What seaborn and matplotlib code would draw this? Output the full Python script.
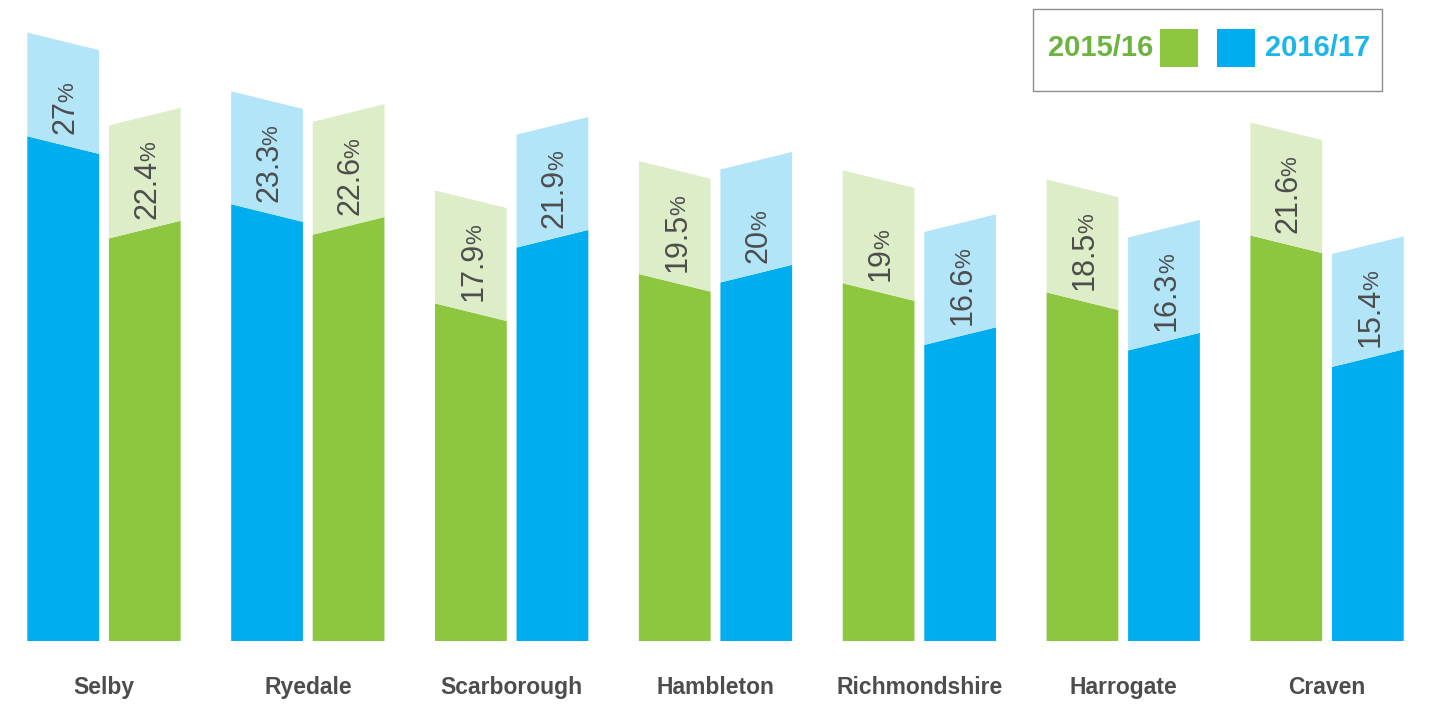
import pandas as pd
import numpy as np
import matplotlib
matplotlib.use("Agg")
import matplotlib.pyplot as plt
from matplotlib.patches import Polygon, Rectangle
from matplotlib import font_manager
import seaborn as sns


districts = ["Selby", "Ryedale", "Scarborough", "Hambleton", "Richmondshire", "Harrogate", "Craven"]
v_1516 = [22.4, 22.6, 17.9, 19.5, 19.0, 18.5, 21.6]
v_1617 = [27.0, 23.3, 21.9, 20.0, 16.6, 16.3, 15.4]
# which year is drawn on the left of each pair
left_year = ["2016/17", "2016/17", "2015/16", "2015/16", "2015/16", "2015/16", "2015/16"]
years = ["2015/16", "2016/17"]

solid = {"2015/16": "#8DC63F", "2016/17": "#00AEEF"}
light = {"2015/16": "#DDEDC7", "2016/17": "#B3E5F9"}
legend_text = {"2015/16": "#6DB33F", "2016/17": "#1CB6E8"}
grey = "#4D4D4D"

rows = []
for i, d in enumerate(districts):
    for y, v in zip(years, [v_1516[i], v_1617[i]]):
        rows.append({"district": d, "year": y, "value": v,
                     "slot": "L" if y == left_year[i] else "R"})
df = pd.DataFrame(rows)

sns.set_theme(style="white")
installed = {f.name for f in font_manager.fontManager.ttflist}
narrow = "Liberation Sans Narrow" if "Liberation Sans Narrow" in installed else "Liberation Sans"
plt.rcParams["font.family"] = ["Liberation Sans", "DejaVu Sans"]

fig = plt.figure(figsize=(14.29, 7.09), dpi=100)
ax = fig.add_axes([0, 68 / 709, 1, 641 / 709])

sns.barplot(data=df, x="district", y="value", hue="slot", order=districts,
            hue_order=["L", "R"], width=0.8, gap=0.12, errorbar=None,
            legend=False, ax=ax)

ax.set_xlim(-0.51, 6.50)
ax.set_ylim(0, 34.9)

half_slope = 0.48
cap = 6.15
fig.canvas.draw()
renderer = fig.canvas.get_renderer()

for p in list(ax.patches):
    x0, w, h = p.get_x(), p.get_width(), p.get_height()
    c = x0 + w / 2
    i = int(round(c))
    is_left = c < i
    year = left_year[i] if is_left else [y for y in years if y != left_year[i]][0]
    p.remove()
    s = half_slope if is_left else -half_slope
    yl, yr = h + s, h - s
    ch = cap
    if i == 0 and is_left:
        ch = 5.65
    ax.add_patch(Polygon([(x0, 0), (x0 + w, 0), (x0 + w, yr), (x0, yl)],
                         closed=True, facecolor=solid[year], lw=0))
    ax.add_patch(Polygon([(x0, yl), (x0 + w, yr), (x0 + w, yr + ch), (x0, yl + ch)],
                         closed=True, facecolor=light[year], lw=0))

    num = f"{h:g}"
    tx = c + 0.051
    ty = h + 0.6
    t = ax.text(tx, ty, num, rotation=90, rotation_mode="anchor", ha="left",
                va="baseline", fontsize=22, color=grey, family=[narrow, "DejaVu Sans"])
    bb = t.get_window_extent(renderer)
    top = ax.transData.inverted().transform((0, bb.y1))[1]
    ax.text(tx, top - 0.1, "%", rotation=90, rotation_mode="anchor", ha="left",
            va="baseline", fontsize=16, color=grey, family=[narrow, "DejaVu Sans"])

ax.set_xticks(range(len(districts)))
ax.set_xticklabels(districts, fontsize=16.5, fontweight="bold", color=grey)
ax.tick_params(axis="x", length=0, pad=25)
ax.set_yticks([])
ax.set_xlabel("")
ax.set_ylabel("")
sns.despine(ax=ax, left=True, bottom=True)

# legend box
W, H = 1429, 709
fig.patches.append(Rectangle((1033 / W, 1 - 91 / H), 349 / W, 82 / H, transform=fig.transFigure,
                             facecolor="white", edgecolor="#8C8C8C", lw=1.0))
fig.patches.append(Rectangle((1160 / W, 1 - 67 / H), 38 / W, 38 / H, transform=fig.transFigure,
                             facecolor=solid["2015/16"], lw=0))
fig.patches.append(Rectangle((1217 / W, 1 - 67 / H), 38 / W, 38 / H, transform=fig.transFigure,
                             facecolor=solid["2016/17"], lw=0))
fig.text(1153 / W, 1 - 48 / H, "2015/16", ha="right", va="center", fontsize=21,
         fontweight="bold", color=legend_text["2015/16"])
fig.text(1265 / W, 1 - 48 / H, "2016/17", ha="left", va="center", fontsize=21,
         fontweight="bold", color=legend_text["2016/17"])

fig.savefig("out.png", dpi=100)
